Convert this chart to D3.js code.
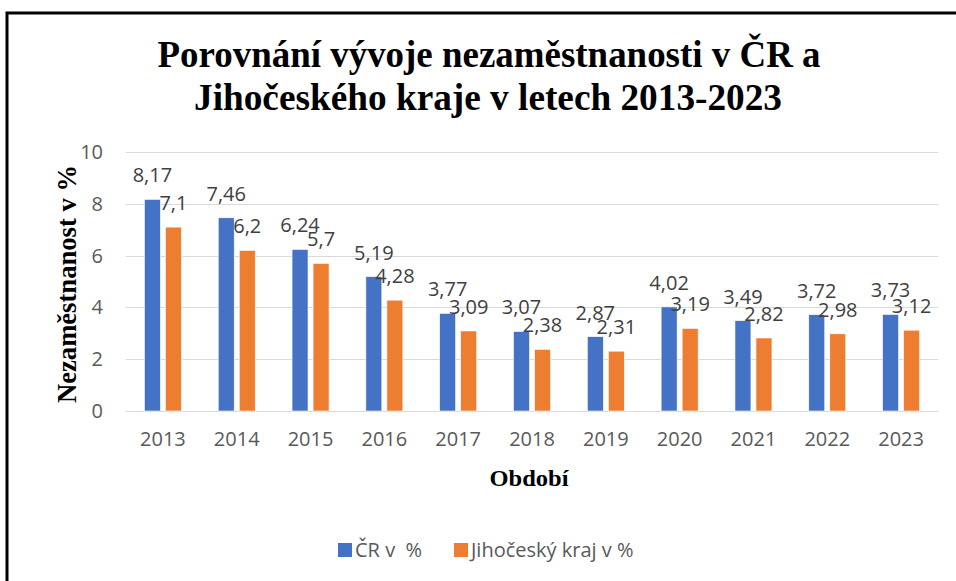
<!DOCTYPE html>
<html>
<head>
<meta charset="utf-8">
<script src="https://cdn.jsdelivr.net/npm/d3@7"></script>
<style>
  body { margin: 0; background: #fff; }
  svg { display: block; }
</style>
</head>
<body>
<svg width="956" height="581"></svg>
<script>
const svg = d3.select("svg"),
  width = +svg.attr("width"),
  height = +svg.attr("height");

// Data
const years = ["2013", "2014", "2015", "2016", "2017", "2018", "2019", "2020", "2021", "2022", "2023"];
const cr = [8.17, 7.46, 6.24, 5.19, 3.77, 3.07, 2.87, 4.02, 3.49, 3.72, 3.73];
const jihocesky = [7.1, 6.2, 5.7, 4.28, 3.09, 2.38, 2.31, 3.19, 2.82, 2.98, 3.12];
const seriesNames = ["ČR v  %", "Jihočeský kraj v %"];
const yTicks = [0, 2, 4, 6, 8, 10];

const colors = ["#4472C4", "#ED7D31"];
const margin = { top: 152, right: 18, bottom: 170, left: 126 };

// Rámeček
svg.append("rect")
  .attr("x", 7).attr("y", 13)
  .attr("width", 1200).attr("height", 1200)
  .attr("fill", "none")
  .attr("stroke", "#000")
  .attr("stroke-width", 3);

// Škály
const x0 = d3.scaleBand()
  .domain(years)
  .range([margin.left, width - margin.right])
  .paddingInner(0).paddingOuter(0);

const x1 = d3.scaleBand()
  .domain([0, 1])
  .range([x0.bandwidth() / 2 - 18.5, x0.bandwidth() / 2 + 18.5])
  .paddingInner(0.24);

const y = d3.scaleLinear()
  .domain([0, 10])
  .range([411, margin.top]);

// Mřížka
svg.append("g")
  .selectAll("line")
  .data(yTicks)
  .join("line")
  .attr("x1", margin.left)
  .attr("x2", width - margin.right)
  .attr("y1", d => Math.round(y(d)) + 0.5)
  .attr("y2", d => Math.round(y(d)) + 0.5)
  .attr("stroke", "#d9d9d9")
  .attr("stroke-width", 1);

// Osa Y (popisky)
const yAxis = svg.append("g")
  .attr("transform", `translate(${margin.left}, 0)`)
  .call(d3.axisLeft(y).tickValues(yTicks).tickSize(0).tickPadding(23));
yAxis.select(".domain").remove();
yAxis.selectAll("text")
  .attr("fill", "#595959")
  .style("font-family", "'Open Sans', sans-serif")
  .style("font-size", "20px");

// Osa X (popisky)
const xAxis = svg.append("g")
  .attr("transform", `translate(0, 411)`)
  .call(d3.axisBottom(x0).tickSize(0).tickPadding(21));
xAxis.select(".domain").remove();
xAxis.selectAll("text")
  .attr("fill", "#595959")
  .style("font-family", "'Open Sans', sans-serif")
  .style("font-size", "20px");

// Sloupce
const rows = years.map((yr, i) => ({ year: yr, values: [cr[i], jihocesky[i]] }));

const groups = svg.append("g")
  .selectAll("g")
  .data(rows)
  .join("g")
  .attr("transform", d => `translate(${x0(d.year)}, 0)`);

groups.selectAll("rect")
  .data(d => d.values.map((v, s) => ({ s, v })))
  .join("rect")
  .attr("x", d => x1(d.s))
  .attr("width", x1.bandwidth())
  .attr("y", d => y(d.v))
  .attr("height", d => y(0) - y(d.v))
  .attr("fill", d => colors[d.s])
  .attr("stroke", "#fff")
  .attr("stroke-width", 0.6);

groups.selectAll("text.label")
  .data(d => d.values.map((v, s) => ({ s, v })))
  .join("text")
  .attr("class", "label")
  .attr("x", d => x1(d.s) + x1.bandwidth() / 2)
  .attr("y", d => y(d.v) - 17)
  .attr("text-anchor", "middle")
  .attr("fill", "#404040")
  .style("font-family", "'Open Sans', sans-serif")
  .style("font-size", "20px")
  .text(d => String(d.v).replace(".", ","));

// Titulek
const title = svg.append("text")
  .attr("text-anchor", "middle")
  .style("font-family", "'Liberation Serif', 'Times New Roman', serif")
  .style("font-weight", "bold")
  .style("font-size", "37px")
  .attr("fill", "#000");
title.append("tspan").attr("x", 489).attr("y", 67)
  .attr("textLength", 663).attr("lengthAdjust", "spacingAndGlyphs")
  .text("Porovnání vývoje nezaměstnanosti v ČR a");
title.append("tspan").attr("x", 488).attr("y", 110)
  .attr("textLength", 588).attr("lengthAdjust", "spacingAndGlyphs")
  .text("Jihočeského kraje v letech 2013-2023");

// Názvy os
svg.append("text")
  .attr("transform", "rotate(-90)")
  .attr("x", -284)
  .attr("y", 76)
  .attr("text-anchor", "middle")
  .attr("textLength", 238).attr("lengthAdjust", "spacingAndGlyphs")
  .style("font-family", "'Liberation Serif', 'Times New Roman', serif")
  .style("font-weight", "bold")
  .style("font-size", "27px")
  .text("Nezaměstnanost v %");

svg.append("text")
  .attr("x", 529)
  .attr("y", 486)
  .attr("text-anchor", "middle")
  .attr("textLength", 79).attr("lengthAdjust", "spacingAndGlyphs")
  .style("font-family", "'Liberation Serif', 'Times New Roman', serif")
  .style("font-weight", "bold")
  .style("font-size", "24px")
  .text("Období");

// Legenda
const legendX = [338, 454];
const legend = svg.append("g");
seriesNames.forEach((name, i) => {
  const g = legend.append("g").attr("transform", `translate(${legendX[i]}, 543)`);
  g.append("rect").attr("width", 14).attr("height", 14).attr("fill", colors[i]);
  g.append("text")
    .attr("x", 17).attr("y", 14)
    .attr("fill", "#595959")
    .style("font-family", "'Open Sans', sans-serif")
    .style("font-size", "20px")
    .style("white-space", "pre")
    .attr("xml:space", "preserve")
    .text(name);
});
</script>
</body>
</html>
